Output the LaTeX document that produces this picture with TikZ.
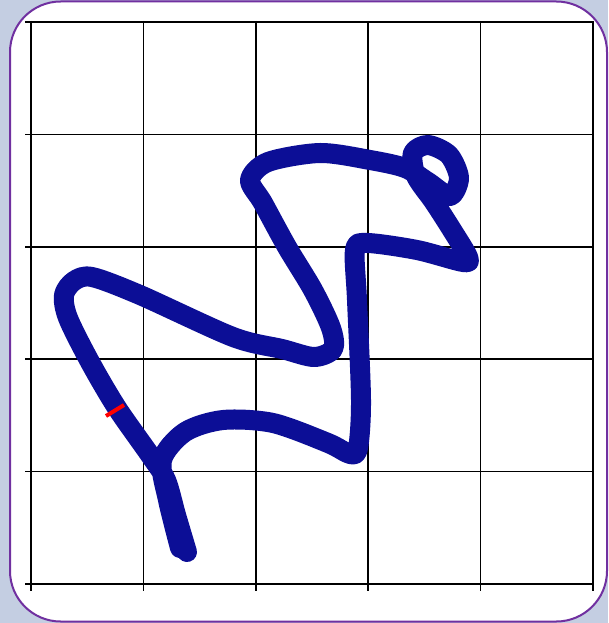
\documentclass[tikz,border=0pt]{standalone}
\usepackage{xcolor}
\usepackage{tikz}
\definecolor{trace}{RGB}{12,14,150}
\definecolor{framepurple}{RGB}{112,48,160}
\definecolor{bggray}{RGB}{196,206,226}

\begin{document}
\begin{tikzpicture}[x=0.75pt, y=-0.75pt]
\fill[bggray] (0,0) rectangle (608,623);
\useasboundingbox (0,0) rectangle (608,623);
\draw[framepurple, line width=1.5pt, fill=white, rounded corners=38pt] (10,1.5) rectangle (607,621.5);
% grid with small overshoot at left and bottom
\foreach \i in {0,...,5} {
  \draw[line width=1.1pt] (25,22+112.4*\i) -- (593,22+112.4*\i);
  \draw[line width=1.1pt] (31+112.4*\i,21) -- (31+112.4*\i,591);
}
% the traced path, one thick stroke and a few loose strands
\foreach \dx/\dy/\w in {0/0/15pt, -7/-6/0.6pt, 7/6/0.6pt, -8/3/0.6pt, 8/-3/0.6pt} {
  \draw[trace, line width=\w, line cap=round, line join=round, shift={(\dx,\dy)}]
    plot[smooth, tension=0.5] coordinates {
      (187,552) (176,515) (166,480) (150,455) (117,408) (90,362) (68,318)
      (64,295) (74,281) (92,277) (140,295) (233,337) (282,349) (314,357)
      (333,349) (331,328) (313,290) (287,247) (263,203) (250,180) (268,162)
      (320,153) (370,160) (405,168) (428,182) (450,196) (459,178) (449,155)
      (428,145) (413,153) (416,176) (434,202) (452,230) (468,257) (463,262)
      (417,250) (367,243) (355,250) (357,300) (361,400) (358,448) (350,454)
      (328,443) (273,423) (223,420) (185,432) (162,460) (168,500) (180,548)};
}
% start mark
\draw[red, line width=3pt] (106,416) -- (124,405);
\end{tikzpicture}
\end{document}
